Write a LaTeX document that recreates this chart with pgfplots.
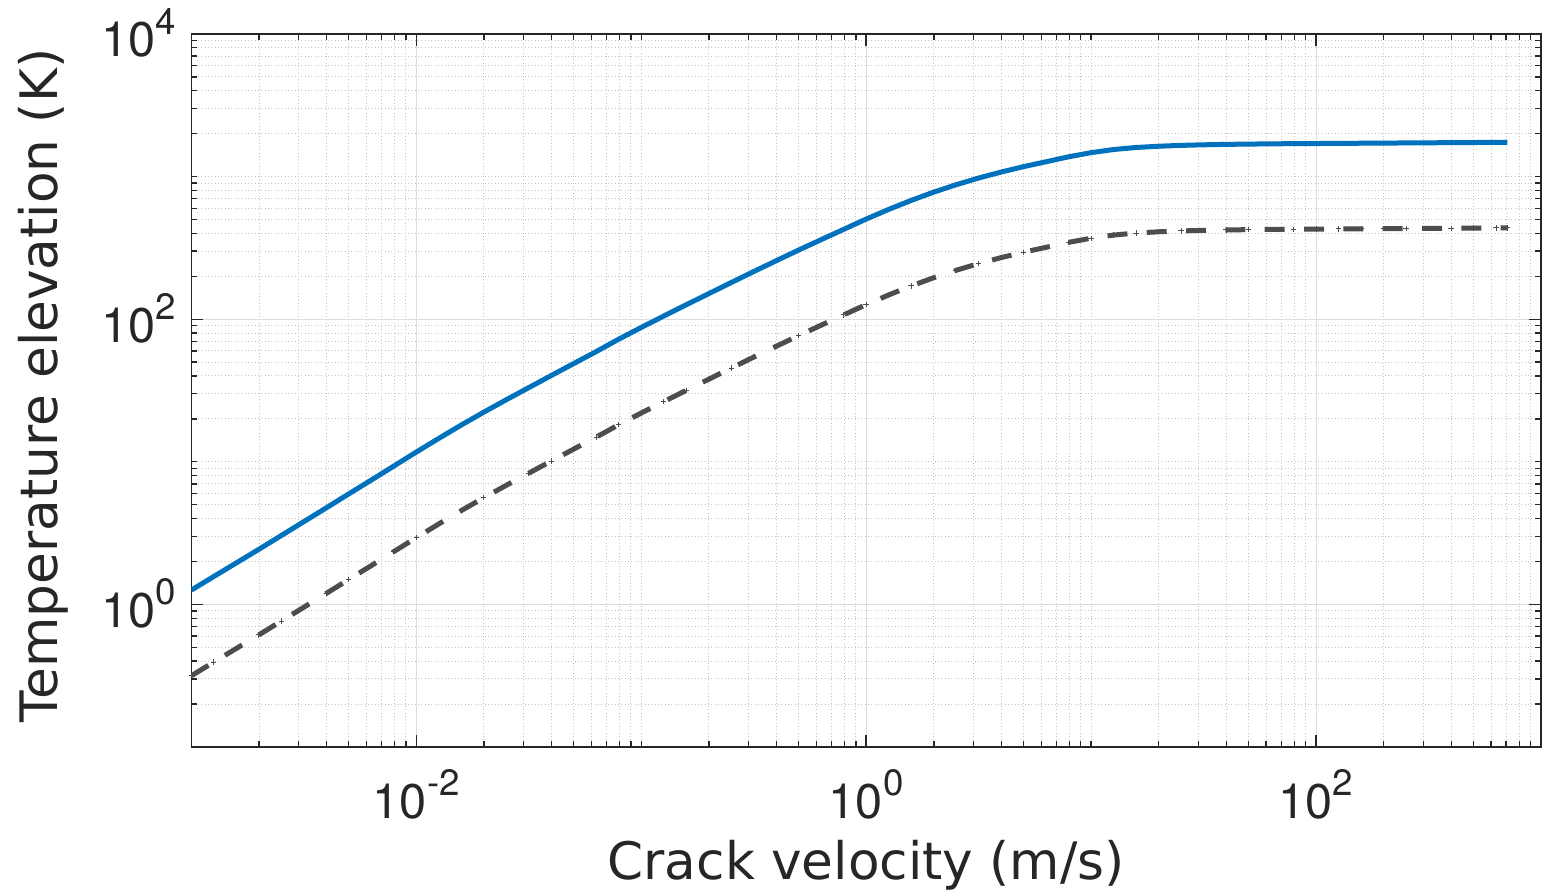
\documentclass[border=0pt]{standalone}
\usepackage{fontspec}
\setmainfont{DejaVu Sans}
\newfontfamily\tickfont{TeX Gyre Heros}
\usepackage{pgfplots}
\pgfplotsset{compat=1.18}
\usepackage{pgfplotstable}
\definecolor{mblue}{HTML}{0072BD}
\definecolor{mgray}{HTML}{4D4D4D}
\definecolor{txt}{HTML}{262626}
\definecolor{gmaj}{HTML}{DEDEDE}
\definecolor{gmin}{HTML}{C4C4C4}
\newcommand{\tl}[1]{{\tickfont\fontsize{14.6}{15}\selectfont 10\raisebox{6.8pt}{\fontsize{11}{11}\selectfont #1}}}
\pgfplotstableread{
x b g
1.0000e-3 1.259 0.316
1.2589e-3 1.570 0.394
1.5849e-3 1.954 0.491
1.9953e-3 2.432 0.611
2.5119e-3 3.041 0.764
3.1623e-3 3.802 0.955
3.9811e-3 4.753 1.194
5.0119e-3 5.957 1.496
6.3096e-3 7.447 1.871
7.9433e-3 9.333 2.344
1.0000e-2 11.70 2.939
1.2589e-2 14.59 3.665
1.5849e-2 18.11 4.549
1.9953e-2 22.28 5.597
2.5119e-2 27.23 6.840
3.1623e-2 33.11 8.317
3.9811e-2 40.27 10.12
5.0119e-2 48.87 12.28
6.3096e-2 59.29 14.89
7.9433e-2 72.44 18.20
1.0000e-1 87.50 21.98
1.2589e-1 105.2 26.43
1.5849e-1 126.2 31.70
1.9953e-1 151.0 37.93
2.5119e-1 180.7 45.39
3.1623e-1 215.8 54.21
3.9811e-1 257.0 64.56
5.0119e-1 305.5 76.74
6.3096e-1 361.4 90.78
7.9433e-1 426.6 107.2
1.0000 503.5 126.5
1.2589 588.8 147.9
1.5849 680.8 171.0
1.9953 778.0 195.4
2.5119 877.0 220.3
3.1623 977.2 245.5
3.9811 1076 270.3
5.0119 1175 295.2
6.3096 1271 319.3
7.9433 1377 345.9
10.000 1472 369.8
12.589 1549 389.1
15.849 1600 401.9
19.953 1633 410.2
25.119 1656 416.0
31.623 1671 419.8
39.811 1683 422.8
50.119 1690 424.5
63.096 1698 426.5
79.433 1702 427.5
100.00 1706 428.5
125.89 1710 429.5
158.49 1714 430.6
199.53 1718 431.6
251.19 1722 432.6
316.23 1726 433.6
398.11 1730 434.6
501.19 1734 435.6
630.96 1737 436.3
707.95 1738 436.6
}\data
\begin{document}
\begin{tikzpicture}
\begin{axis}[name=ax, scale only axis, width=404.9pt, height=213.9pt,
  xmode=log, ymode=log, xmin=1e-3, xmax=1e3, ymin=1e-1, ymax=1e4,
  xtick={1e-2,1,1e2}, xticklabels={\tl{-2},\tl{0},\tl{2}},
  ytick={1,1e2,1e4}, yticklabels={\tl{0},\tl{2},\tl{4}},
  minor xtick={2e-3,3e-3,4e-3,5e-3,6e-3,7e-3,8e-3,9e-3,
    2e-2,3e-2,4e-2,5e-2,6e-2,7e-2,8e-2,9e-2,1e-1,
    2e-1,3e-1,4e-1,5e-1,6e-1,7e-1,8e-1,9e-1,
    2,3,4,5,6,7,8,9,10,20,30,40,50,60,70,80,90,
    200,300,400,500,600,700,800,900},
  minor ytick={0.2,0.3,0.4,0.5,0.6,0.7,0.8,0.9,
    2,3,4,5,6,7,8,9,10,20,30,40,50,60,70,80,90,
    200,300,400,500,600,700,800,900,1000,
    2000,3000,4000,5000,6000,7000,8000,9000},
  grid=both,
  major grid style={gmaj, line width=0.3pt},
  minor grid style={gmin, line width=0.3pt, dash pattern=on 0.3pt off 0.7pt},
  axis line style={txt, line width=0.45pt},
  tick style={txt, line width=0.4pt},
  major tick length=3.6pt, minor tick length=1.8pt,
  tick align=inside,
  xticklabel style={anchor=base, inner sep=0pt, yshift=-21.4pt, text=txt},
  yticklabel style={anchor=base east, inner sep=0pt, xshift=-4.3pt, yshift=-6.9pt, text=txt},
  xlabel={Crack velocity (m/s)},
  ylabel={Temperature elevation (K)},
  xlabel style={at={(axis description cs:0.5,-0.1865)}, anchor=base, font=\fontsize{15.5}{18}\selectfont, text=txt},
  ylabel style={at={(axis description cs:-0.0993,0.507)}, anchor=base, font=\fontsize{15.5}{18}\selectfont, text=txt},
]
\addplot[mblue, line width=1.5pt, no markers] table[x=x,y=b]{\data};
\addplot[mgray, line width=1.5pt, dash pattern=on 6pt off 5.8pt, mark=+, mark size=0.8pt, mark options={solid, line width=0.3pt}] table[x=x,y=g]{\data};
\end{axis}
\pgfresetboundingbox
\path[use as bounding box] ([shift={(-57.4pt,-43.8pt)}]ax.south west) rectangle ([shift={(2.7pt,10.2pt)}]ax.north east);
\end{tikzpicture}
\end{document}
